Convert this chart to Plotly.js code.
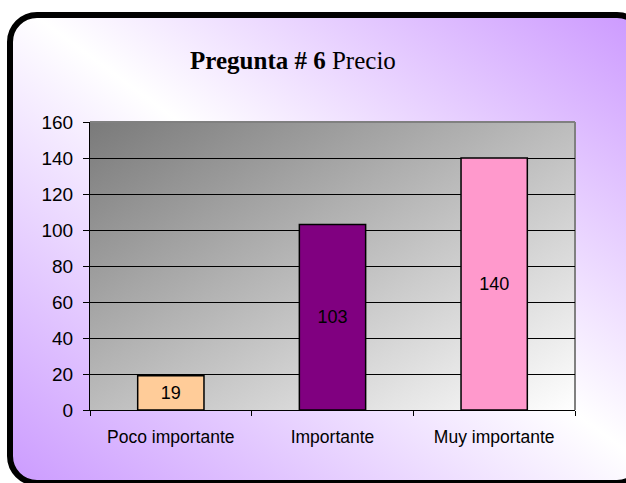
<!DOCTYPE html>
<html>
<head>
<meta charset="utf-8">
<script src="https://cdn.plot.ly/plotly-3.0.1.min.js"></script>
<style>
  html, body { margin: 0; padding: 0; width: 626px; height: 483px; overflow: hidden; background: #ffffff; }
  #frame {
    position: absolute; left: 7px; top: 12px; width: 640px; height: 474px;
    box-sizing: border-box; border: 6px solid #000; border-radius: 30px;
    background: linear-gradient(to top right, #CC9CFF 0%, #ffffff 52%, #CC99FF 100%);
  }
  #chart { position: absolute; left: 0; top: 0; width: 626px; height: 483px; }
</style>
</head>
<body>
<div id="frame"></div>
<div id="chart"></div>
<script>
const categories = ["Poco importante", "Importante", "Muy importante"];
const values = [19, 103, 140];
const barColors = ["#FFCC99", "#800080", "#FF99CC"];
const yTicks = [0, 20, 40, 60, 80, 100, 120, 140, 160];

const gradSvg = "<svg xmlns='http://www.w3.org/2000/svg' width='100' height='100' viewBox='0 0 100 100' preserveAspectRatio='none'>" +
  "<defs><linearGradient id='g' x1='0' y1='0' x2='1' y2='1'>" +
  "<stop offset='0' stop-color='#7a7a7a'/><stop offset='1' stop-color='#ffffff'/>" +
  "</linearGradient></defs><rect width='100' height='100' fill='url(#g)'/></svg>";
const gradUri = "data:image/svg+xml;charset=utf-8," + encodeURIComponent(gradSvg);

const trace = {
  type: "bar",
  x: categories,
  y: values,
  width: 0.41,
  marker: { color: barColors, line: { color: "#000000", width: 1.5 } },
  text: values.map(String),
  textposition: "inside",
  insidetextanchor: "middle",
  textangle: 0,
  textfont: { family: "Arial, Liberation Sans, sans-serif", size: 18, color: "#000000" },
  hoverinfo: "skip"
};

const layout = {
  width: 626,
  height: 483,
  margin: { l: 90, r: 51, t: 122, b: 73 },
  paper_bgcolor: "rgba(0,0,0,0)",
  plot_bgcolor: "rgba(0,0,0,0)",
  showlegend: false,
  title: {
    text: "<b>Pregunta # 6</b> Precio",
    font: { family: "Liberation Serif, DejaVu Serif, serif", size: 25, color: "#000000" },
    xref: "container", yref: "container",
    x: 0.468, xanchor: "center",
    y: 0.876, yanchor: "middle"
  },
  xaxis: {
    type: "category",
    showline: true, linecolor: "#000000", linewidth: 1,
    ticks: "outside", tickson: "boundaries", ticklen: 5, tickcolor: "#000000",
    showgrid: false,
    tickfont: { family: "Arial, Liberation Sans, sans-serif", size: 17.5, color: "#000000" },
    ticklabelstandoff: 11
  },
  yaxis: {
    range: [0, 160],
    tickvals: yTicks,
    ticktext: yTicks.map(String),
    showline: true, linecolor: "#000000", linewidth: 1,
    ticks: "outside", ticklen: 6, tickcolor: "#000000",
    showgrid: true, gridcolor: "#000000", gridwidth: 1,
    zeroline: false,
    tickfont: { family: "Arial, Liberation Sans, sans-serif", size: 19, color: "#000000" },
    ticklabelstandoff: 6
  },
  images: [{
    source: gradUri,
    xref: "paper", yref: "paper",
    x: 0, y: 1, sizex: 1, sizey: 1,
    xanchor: "left", yanchor: "top",
    sizing: "stretch", layer: "below"
  }],
  shapes: [
    { type: "line", xref: "paper", yref: "paper", x0: 0, x1: 1, y0: 1, y1: 1, line: { color: "#808080", width: 2 }, layer: "below" },
    { type: "line", xref: "paper", yref: "paper", x0: 1, x1: 1, y0: 0, y1: 1, line: { color: "#808080", width: 2 }, layer: "below" }
  ]
};

Plotly.newPlot("chart", [trace], layout, { displayModeBar: false, staticPlot: true });
</script>
</body>
</html>
